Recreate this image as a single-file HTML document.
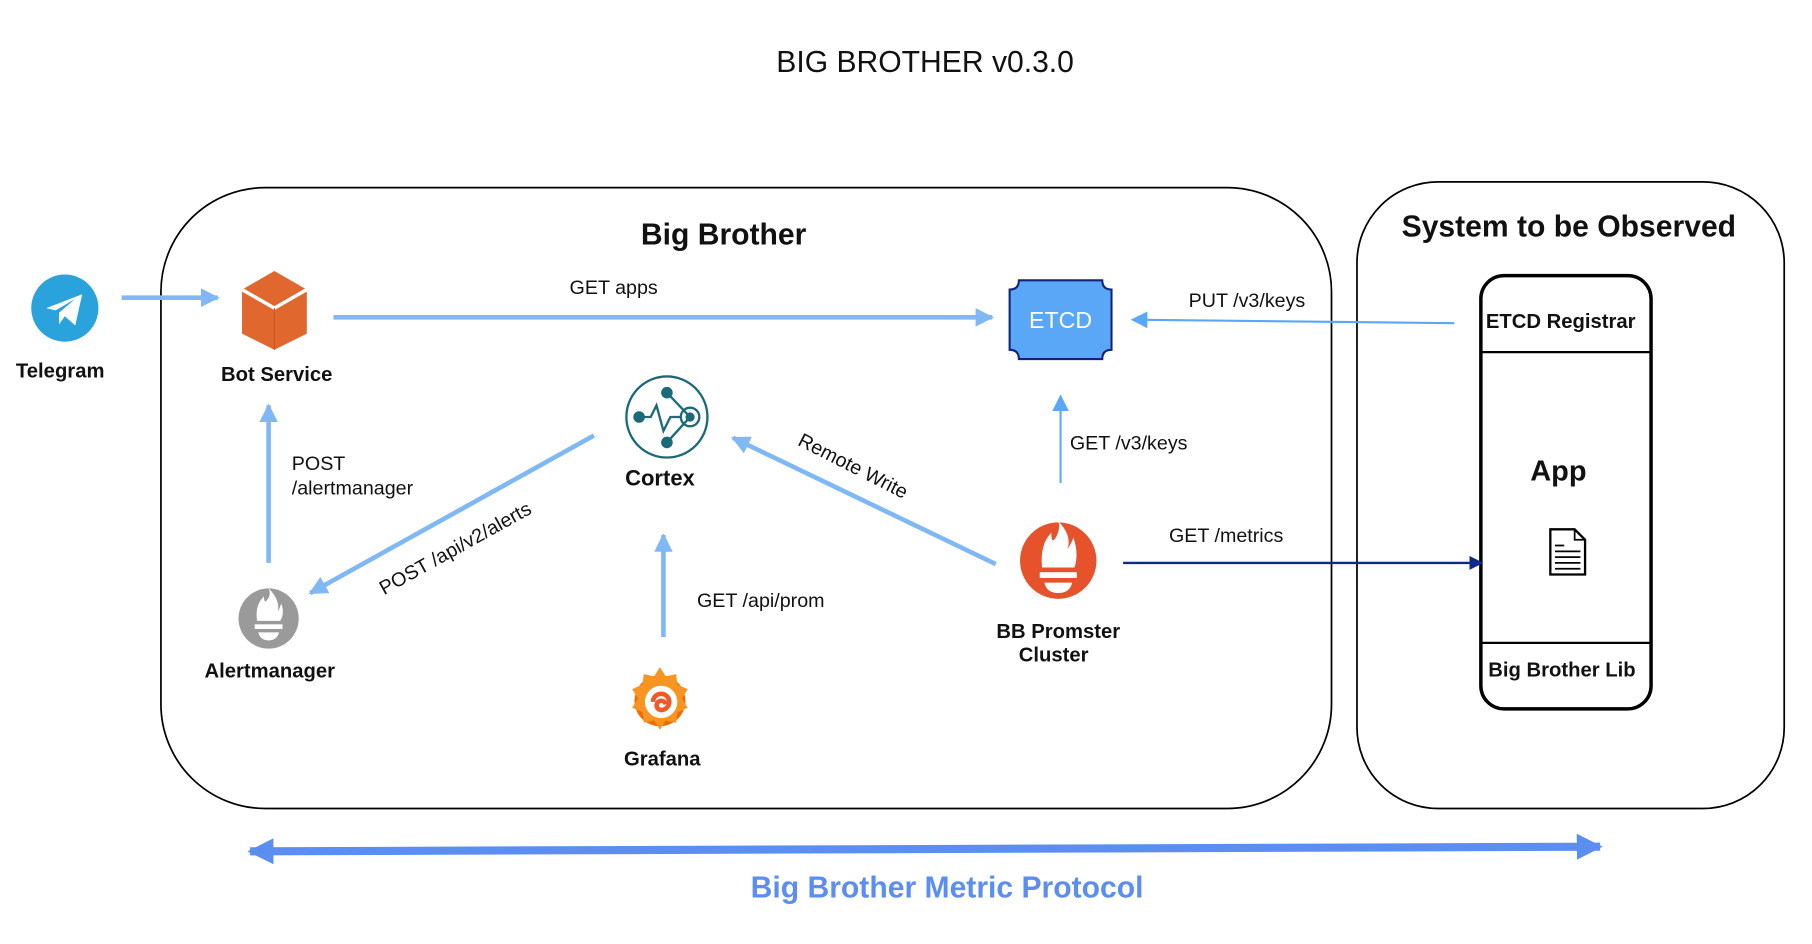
<!DOCTYPE html>
<html><head><meta charset="utf-8"><style>
html,body{margin:0;padding:0;background:#fff;}
svg{display:block;font-family:"Liberation Sans",Arial,sans-serif;}
.l{font-size:17px;fill:#111;}
.b{font-size:17.5px;font-weight:bold;fill:#111;}
</style></head><body>
<svg width="1812" height="944" viewBox="0 0 1565 815" preserveAspectRatio="none" xmlns="http://www.w3.org/2000/svg">
<defs>
<marker id="ah" viewBox="0 0 10 10" refX="9" refY="5" markerWidth="4" markerHeight="4" orient="auto"><path d="M0,0L10,5L0,10z" fill="#7fb8f5"/></marker>
<marker id="ah2" viewBox="0 0 10 10" refX="9" refY="5" markerWidth="8" markerHeight="8" orient="auto"><path d="M0,0L10,5L0,10z" fill="#5aa7f7"/></marker>
<marker id="ahn" viewBox="0 0 10 10" refX="9" refY="5" markerWidth="6" markerHeight="6" orient="auto"><path d="M0,0L10,5L0,10z" fill="#0d2a8a"/></marker>
<marker id="ahb" viewBox="0 0 10 10" refX="9" refY="5" markerWidth="3.2" markerHeight="3.2" orient="auto-start-reverse"><path d="M0,0L10,5L0,10z" fill="#5b8ef0"/></marker>
</defs>
<text x="799" y="62" text-anchor="middle" font-size="26" fill="#111">BIG BROTHER v0.3.0</text>
<rect x="139" y="162" width="1011" height="536" rx="90" fill="none" stroke="#000" stroke-width="1.5"/>
<rect x="1172" y="157" width="369" height="541" rx="70" fill="none" stroke="#000" stroke-width="1.5"/>
<text x="625" y="211" text-anchor="middle" font-size="26" font-weight="bold" fill="#111">Big Brother</text>
<text x="1355" y="204" text-anchor="middle" font-size="26" font-weight="bold" fill="#111">System to be Observed</text>

<circle cx="56" cy="266" r="29" fill="#2aa3dc"/>
<path d="M40,266 L71,254 L65,281 L56,273 L51,280 L51,270 L65,258 L48,268 Z" fill="#fff"/>
<text x="52" y="326" text-anchor="middle" class="b">Telegram</text>
<line x1="105" y1="257" x2="188" y2="257" stroke="#7fb8f5" stroke-width="4" marker-end="url(#ah)"/>

<path d="M237,234 L265,250 L265,288 L237,302 L209,288 L209,250 Z" fill="#e0672e"/>
<path d="M209,250 L237,266 L265,250" fill="none" stroke="#fff" stroke-width="3"/>
<path d="M237,266 L237,302" stroke="#c9551f" stroke-width="1"/>
<text x="239" y="329" text-anchor="middle" class="b">Bot Service</text>

<line x1="288" y1="274" x2="857" y2="274" stroke="#7fb8f5" stroke-width="4" marker-end="url(#ah)"/>
<text x="530" y="254" text-anchor="middle" class="l">GET apps</text>

<path d="M880,242 L952,242 Q952,250 960,250 L960,302 Q952,302 952,310 L880,310 Q880,302 872,302 L872,250 Q880,250 880,242 Z" fill="#5aa7f7" stroke="#10257a" stroke-width="1.8"/>
<text x="916" y="283" text-anchor="middle" font-size="20" fill="#fff">ETCD</text>

<line x1="1256" y1="279" x2="978" y2="276" stroke="#5aa7f7" stroke-width="1.8" marker-end="url(#ah2)"/>
<text x="1077" y="265" text-anchor="middle" class="l">PUT /v3/keys</text>

<rect x="1279" y="238" width="147" height="374" rx="20" fill="none" stroke="#000" stroke-width="3"/>
<line x1="1279" y1="304" x2="1426" y2="304" stroke="#000" stroke-width="2"/>
<line x1="1279" y1="555" x2="1426" y2="555" stroke="#000" stroke-width="2"/>
<text x="1348" y="283" text-anchor="middle" class="b">ETCD Registrar</text>
<text x="1346" y="415" text-anchor="middle" font-size="25" font-weight="bold" fill="#111">App</text>
<path d="M1339,457 L1360,457 L1369,466 L1369,496 L1339,496 Z" fill="#fff" stroke="#000" stroke-width="2"/>
<path d="M1360,457 L1360,466 L1369,466" fill="none" stroke="#000" stroke-width="1.5"/>
<path d="M1343,471h8M1343,476h22M1343,481h22M1343,486h22M1343,491h22" stroke="#000" stroke-width="1.5"/>
<text x="1349" y="584" text-anchor="middle" class="b">Big Brother Lib</text>

<circle cx="576" cy="360" r="35" fill="#fff" stroke="#1a6a7a" stroke-width="2"/>
<path d="M576,339 L596,360 L576,382 M552,360 L562,360 L567,350 L573,372 L579,360 L588,360" fill="none" stroke="#1a6a7a" stroke-width="2"/>
<circle cx="576" cy="339" r="5" fill="#1a6a7a"/><circle cx="576" cy="382" r="5" fill="#1a6a7a"/><circle cx="552" cy="360" r="5" fill="#1a6a7a"/>
<circle cx="596" cy="360" r="8" fill="none" stroke="#1a6a7a" stroke-width="2"/><circle cx="596" cy="360" r="4" fill="#1a6a7a"/>
<text x="570" y="419" text-anchor="middle" font-size="19" font-weight="bold" fill="#111">Cortex</text>

<line x1="916" y1="417" x2="916" y2="342" stroke="#5aa7f7" stroke-width="1.8" marker-end="url(#ah2)"/>
<text x="924" y="388" class="l">GET /v3/keys</text>

<circle cx="914" cy="484" r="33" fill="#e6522c"/>
<path d="M900,490 Q898,470 908,460 Q908,472 913,462 Q916,455 914,450 Q926,462 922,474 Q926,468 927,464 Q932,478 928,490 Z" fill="#fff"/>
<rect x="898" y="494" width="32" height="5" fill="#fff"/>
<path d="M902,503 L926,503 Q924,512 914,512 Q904,512 902,503 Z" fill="#fff"/>
<text x="914" y="551" text-anchor="middle" class="b">BB Promster</text>
<text x="910" y="571" text-anchor="middle" class="b">Cluster</text>

<line x1="860" y1="487" x2="633" y2="378" stroke="#7fb8f5" stroke-width="4" marker-end="url(#ah)"/>
<text x="737" y="408" text-anchor="middle" class="l" transform="rotate(27 737 402)">Remote Write</text>

<line x1="970" y1="486" x2="1280" y2="486" stroke="#0d2a8a" stroke-width="2" marker-end="url(#ahn)"/>
<text x="1059" y="468" text-anchor="middle" class="l">GET /metrics</text>

<circle cx="232" cy="534" r="26" fill="#9a9a9a"/>
<path d="M222,536 Q220,522 228,515 Q228,523 232,516 Q234,512 232,508 Q242,518 240,528 Q242,524 243,521 Q246,530 242,536 Z" fill="#fff"/>
<rect x="220" y="539" width="24" height="4" fill="#fff"/>
<path d="M223,546 L241,546 Q239,553 232,553 Q225,553 223,546 Z" fill="#fff"/>
<text x="233" y="585" text-anchor="middle" class="b">Alertmanager</text>

<line x1="232" y1="486" x2="232" y2="350" stroke="#7fb8f5" stroke-width="4" marker-end="url(#ah)"/>
<text x="252" y="406" class="l">POST</text>
<text x="252" y="427" class="l">/alertmanager</text>

<line x1="513" y1="376" x2="268" y2="512" stroke="#7fb8f5" stroke-width="4" marker-end="url(#ah)"/>
<text x="393" y="479" text-anchor="middle" class="l" transform="rotate(-29 393 473)">POST /api/v2/alerts</text>

<circle cx="570" cy="605" r="22" fill="#f46800"/>
<path d="M570,576 l5,8 l9,-2 l1,9 l9,4 l-5,8 l5,8 l-9,4 l-1,9 l-9,-2 l-5,8 l-5,-8 l-9,2 l-1,-9 l-9,-4 l5,-8 l-5,-8 l9,-4 l1,-9 l9,2 z" fill="#f79520"/>
<circle cx="571" cy="606" r="14" fill="#fff"/>
<path d="M564,606 a7,7 0 1 1 7,7 a4,4 0 1 1 4,-5" fill="none" stroke="#f05a28" stroke-width="4"/>
<text x="572" y="661" text-anchor="middle" class="b">Grafana</text>

<line x1="573" y1="550" x2="573" y2="462" stroke="#7fb8f5" stroke-width="4" marker-end="url(#ah)"/>
<text x="602" y="524" class="l">GET /api/prom</text>

<line x1="216" y1="735" x2="1382" y2="731" stroke="#5b8ef0" stroke-width="7" marker-start="url(#ahb)" marker-end="url(#ahb)"/>
<text x="818" y="775" text-anchor="middle" font-size="26" font-weight="bold" fill="#5b8ef0">Big Brother Metric Protocol</text>
</svg>
</body></html>
